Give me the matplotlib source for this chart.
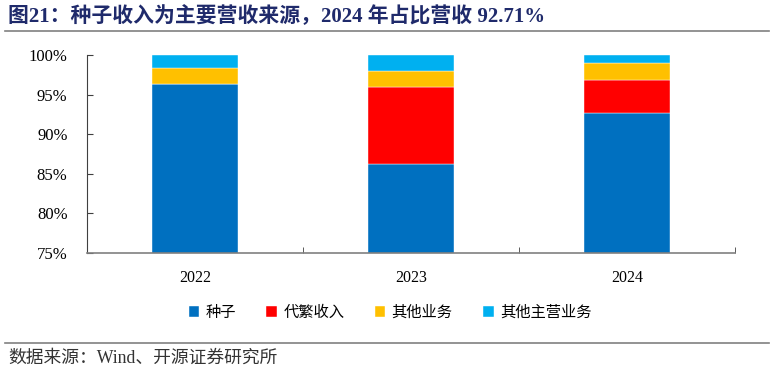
import matplotlib
matplotlib.use("Agg")
import matplotlib.pyplot as plt
import numpy as np

plt.rcParams["font.family"] = ["Liberation Serif", "Noto Sans CJK SC"]
plt.rcParams["axes.unicode_minus"] = False

# 数据（%）
years = ["2022", "2023", "2024"]
seed = [96.3, 86.2, 92.71]
breed = [0.0, 9.8, 4.1]
other_biz = [2.0, 2.0, 2.2]
other_main = [1.7, 2.0, 0.99]
series_names = ["种子", "代繁收入", "其他业务", "其他主营业务"]
colors = ["#0070C0", "#FF0000", "#FFC000", "#00B0F0"]

W, H = 774, 374
fig = plt.figure(figsize=(W / 100, H / 100), dpi=100)

# 标题与分隔线
fig.text(8 / W, 1 - 17 / H, "图21：种子收入为主要营收来源，2024 年占比营收 92.71%",
         fontsize=15, fontweight="bold", color="#1F2A6B", ha="left", va="center")
fig.add_artist(plt.Line2D([5 / W, 769 / W], [1 - 31 / H] * 2, color="#808080", lw=1.2))
fig.add_artist(plt.Line2D([5 / W, 769 / W], [1 - 343 / H] * 2, color="#808080", lw=1.2))
fig.text(8 / W, 1 - 358 / H, "数据来源：Wind、开源证券研究所",
         fontsize=12.8, color="#333333", ha="left", va="center")

ax = fig.add_axes([87 / W, 1 - 253 / H, (735 - 87) / W, (253 - 55) / H])
x = np.arange(len(years))
bottom = np.zeros(len(years))
for vals, name, c in zip([seed, breed, other_biz, other_main], series_names, colors):
    ax.bar(x, vals, 0.4, bottom=bottom, color=c, label=name,
           edgecolor="white", linewidth=0.3)
    bottom += np.array(vals)

ax.set_xlim(-0.5, 2.5)
ax.set_ylim(75, 100)
ax.set_yticks(np.arange(75, 101, 5))
ax.set_yticklabels([f"{v}%" for v in range(75, 101, 5)], fontsize=12)
ax.set_xticks(x)
ax.set_xticklabels(years, fontsize=11.5)
ax.set_xticks([0.5, 1.5, 2.5], minor=True)
ax.tick_params(axis="x", which="major", length=0, pad=12)
ax.tick_params(axis="x", which="minor", direction="in", length=4, color="#404040")
ax.tick_params(axis="y", direction="in", length=4, color="#404040", pad=14)
for s in ["top", "right"]:
    ax.spines[s].set_visible(False)
ax.spines["left"].set_color("#404040")
ax.spines["bottom"].set_color("#808080")
ax.spines["bottom"].set_linewidth(1.2)

fig.legend(loc="center", bbox_to_anchor=(390 / W, 1 - 313 / H), ncol=4,
           frameon=False, fontsize=11, handlelength=0.7, handleheight=0.7,
           handletextpad=0.4, columnspacing=2.0)

fig.savefig("out.png", dpi=100, facecolor="white")
